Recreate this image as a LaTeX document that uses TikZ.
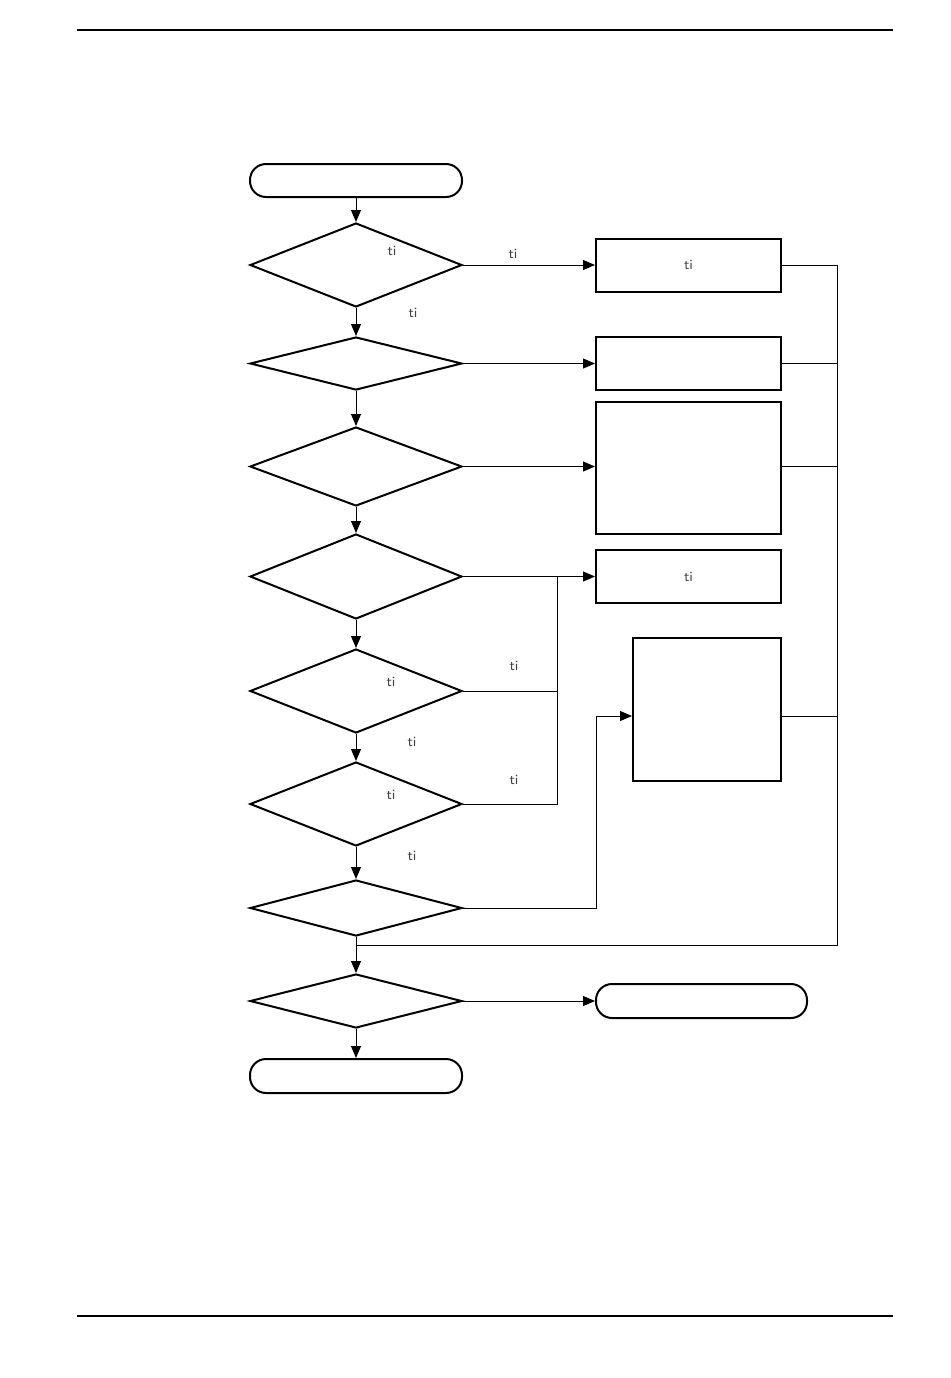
\documentclass[tikz,border=0pt]{standalone}
\usetikzlibrary{arrows.meta,shapes.geometric,calc}

\begin{document}
\begin{tikzpicture}[
        %Environment config
        x=0.5pt, y=-0.5pt,
        font=\sffamily\scriptsize,
        line width=0.5pt,
        %Environment styles
        TermCfg/.style={
            draw, line width=1pt,
            rounded corners=8pt,
            minimum width=106pt, minimum height=16.5pt,
            inner sep=0pt
        },
        DecCfg/.style={
            draw, diamond, line width=1pt,
            minimum width=106pt,
            inner sep=0pt
        },
        BoxCfg/.style={
            draw, line width=1pt,
            minimum width=92.5pt, minimum height=26.5pt,
            inner sep=0pt, text=black!75
        },
        ArrCfg/.style={-{Triangle[length=6pt,width=5pt]}},
        LblCfg/.style={text=black!75, inner sep=1pt}
    ]
    \useasboundingbox (0,0) rectangle (950,1378);
    %page rules
    \draw[line width=1pt] (77,30) -- (893,30) (77,1316) -- (893,1316);

    \path
        (356,180.5) node[TermCfg](START){}
        (356,265) node[DecCfg,minimum height=42pt](D1){}
        (356,363.5) node[DecCfg,minimum height=26.5pt](D2){}
        (356,466.5) node[DecCfg,minimum height=39.5pt](D3){}
        (356,576.5) node[DecCfg,minimum height=42.5pt](D4){}
        (356,691) node[DecCfg,minimum height=42pt](D5){}
        (356,804) node[DecCfg,minimum height=42pt](D6){}
        (356,908) node[DecCfg,minimum height=28pt](D7){}
        (356,1001) node[DecCfg,minimum height=27pt](D8){}
        (356,1076) node[TermCfg,minimum height=17pt](END){}
        (688.5,265) node[BoxCfg](B1){ti}
        (688.5,363.5) node[BoxCfg](B2){}
        (688.5,468) node[BoxCfg,minimum height=66pt](B3){}
        (688.5,576.5) node[BoxCfg](B4){ti}
        (707,709.5) node[BoxCfg,minimum width=74pt,minimum height=71.5pt](B5){}
        (701.5,1001) node[TermCfg,minimum width=105.5pt,minimum height=17pt](T2){};

    %small labels
    \path
        (392,251) node[LblCfg](L1){ti}
        (513,254) node[LblCfg](L2){ti}
        (413,313) node[LblCfg](L3){ti}
        (391,682) node[LblCfg](L4){ti}
        (514,666) node[LblCfg](L5){ti}
        (412,742) node[LblCfg](L6){ti}
        (391,795) node[LblCfg](L7){ti}
        (514,780) node[LblCfg](L8){ti}
        (412,856) node[LblCfg](L9){ti};

    \coordinate (M) at (557,576.5);
    \coordinate (K7) at (596,908);
    \coordinate (B5in) at (B5.west |- 0,716);
    \coordinate (B5out) at (B5.east |- 0,716);
    \coordinate (RB) at (837,945);
    \coordinate (J) at (356,945);

    \draw[ArrCfg]
        (START) edge (D1)
        (D1) edge (D2)
        (D2) edge (D3)
        (D3) edge (D4)
        (D4) edge (D5)
        (D5) edge (D6)
        (D6) edge (D7)
        (D7) edge (D8)
        (D8) edge (END)
        (D1.east) edge (B1.west)
        (D2.east) edge (B2.west)
        (D3.east) edge (D3.east -| B3.west)
        (D4.east) edge (B4.west)
        (D8.east) edge (T2.west)
        (D7.east) -- (K7) |- (B5in);

    \draw
        (D5.east) -| (M)
        (D6.east) -| (M)
        (B1.east) -| (RB) -- (J)
        (B2.east) -- (B2.east -| RB)
        (B3.east |- D3.east) -- (D3.east -| RB)
        (B5out) -- (B5out -| RB);
\end{tikzpicture}
\end{document}
